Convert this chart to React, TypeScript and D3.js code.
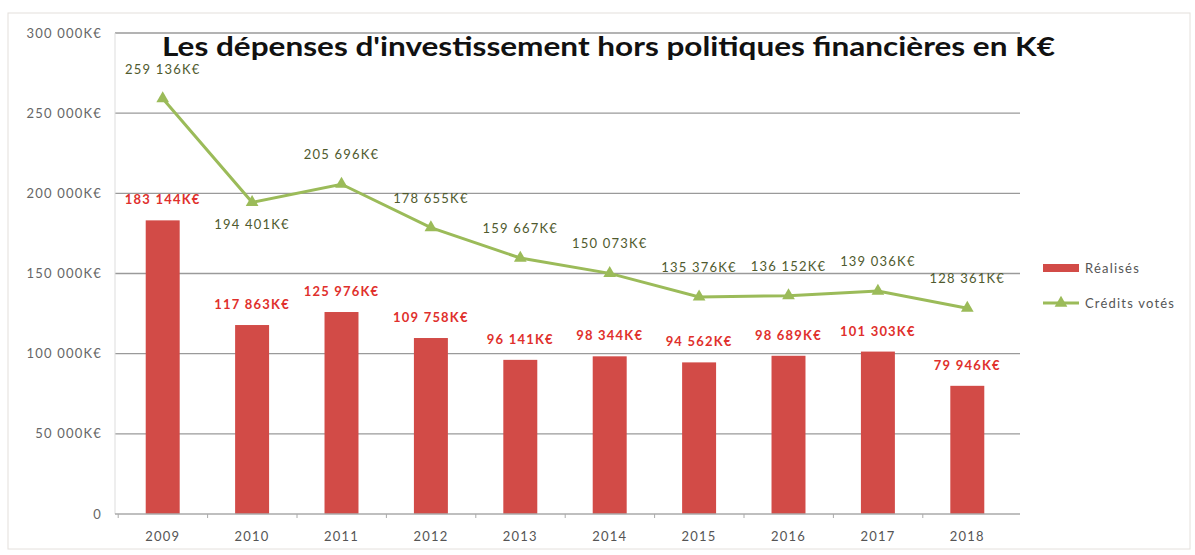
import React from "react";
import * as d3 from "d3";

const width = 1195;
const height = 555;
const margin = { top: 33, right: 183, bottom: 41, left: 118 };

const years = ["2009", "2010", "2011", "2012", "2013", "2014", "2015", "2016", "2017", "2018"];
const realises = [183144, 117863, 125976, 109758, 96141, 98344, 94562, 98689, 101303, 79946];
const credits = [259136, 194401, 205696, 178655, 159667, 150073, 135376, 136152, 139036, 128361];
// label above (-1) or below (+1) the point
const creditsLabelSide = [-1, 1, -1, -1, -1, -1, -1, -1, -1, -1];
const yTicks = [0, 50000, 100000, 150000, 200000, 250000, 300000];

const fmt = (v: number) => d3.format(",")(v).replace(/,/g, " ") + "K€";

const barColor = "#D24B47";
const lineColor = "#9BBB59";
const font = "Lato, 'Open Sans', sans-serif";
const small = { fontFamily: font, fontSize: 13, letterSpacing: 1.2 };

export default function App() {
  const x = d3
    .scaleBand()
    .domain(years)
    .range([margin.left, width - margin.right])
    .paddingInner(0.62)
    .paddingOuter(0.31);
  const y = d3
    .scaleLinear()
    .domain([0, 300000])
    .range([height - margin.bottom, margin.top]);
  const cx = (yr: string) => (x(yr) as number) + x.bandwidth() / 2;

  const line = d3
    .line<number>()
    .x((d, i) => cx(years[i]))
    .y((d) => y(d));

  const tri = d3.symbol().type(d3.symbolTriangle).size(70);
  const x0 = margin.left - 3;
  const x1 = width - margin.right + 8;

  return (
    <svg
      width={width}
      height={height}
      style={{ position: "fixed", left: 0, top: 0, background: "#fff" }}
    >
      <rect x={8} y={13} width={1182} height={536} fill="#fff" stroke="#e4e0dc" />
      {/* grid + y labels */}
      {yTicks.map((t) => (
        <g key={t}>
          {t > 0 && (
            <line x1={x0} x2={x1} y1={y(t)} y2={y(t)} stroke="#9a9a9a" strokeWidth={1.3} />
          )}
          <text
            x={margin.left - 16}
            y={y(t)}
            dy="0.35em"
            textAnchor="end"
            {...small}
            fill="#666"
          >
            {t === 0 ? "0" : fmt(t)}
          </text>
        </g>
      ))}
      <line x1={x0} x2={x0} y1={margin.top} y2={y(0)} stroke="#ddd" />
      {/* bars */}
      {realises.map((v, i) => (
        <rect
          key={years[i]}
          x={x(years[i])}
          y={y(v)}
          width={x.bandwidth()}
          height={y(0) - y(v)}
          fill={barColor}
        />
      ))}
      {/* x axis */}
      <line x1={x0} x2={x1} y1={y(0)} y2={y(0)} stroke="#aaa" strokeWidth={1.3} />
      {years.map((yr) => (
        <g key={yr}>
          <line
            x1={cx(yr) - 44.5}
            x2={cx(yr) - 44.5}
            y1={y(0)}
            y2={y(0) + 4}
            stroke="#aaa"
          />
          <text x={cx(yr)} y={y(0) + 27} textAnchor="middle" {...small} fill="#555">
            {yr}
          </text>
        </g>
      ))}
      {/* bar labels */}
      {realises.map((v, i) => (
        <text
          key={"rl" + i}
          x={cx(years[i])}
          y={y(v) - 16}
          textAnchor="middle"
          {...small}
          fontWeight="bold"
          fill="#E0302C"
        >
          {fmt(v)}
        </text>
      ))}
      {/* line */}
      <path d={line(credits) || ""} fill="none" stroke={lineColor} strokeWidth={3} />
      {credits.map((v, i) => (
        <path
          key={"m" + i}
          d={tri() || ""}
          transform={`translate(${cx(years[i])},${y(v)})`}
          fill={lineColor}
        />
      ))}
      {credits.map((v, i) => (
        <text
          key={"cl" + i}
          x={cx(years[i])}
          y={y(v) + (creditsLabelSide[i] < 0 ? -25 : 27)}
          textAnchor="middle"
          {...small}
          fill="#4f5a2e"
        >
          {fmt(v)}
        </text>
      ))}
      {/* title */}
      <text
        x={162}
        y={56}
        textLength={893}
        lengthAdjust="spacingAndGlyphs"
        fontFamily={font}
        fontSize={27}
        fontWeight="bold"
        fill="#111"
      >
        Les dépenses d'investissement hors politiques financières en K€
      </text>
      {/* legend */}
      <rect x={1043} y={264} width={36} height={8} fill={barColor} />
      <text x={1085} y={268} dy="0.35em" {...small} fill="#555">
        Réalisés
      </text>
      <line x1={1043} x2={1079} y1={303} y2={303} stroke={lineColor} strokeWidth={3} />
      <path d={tri() || ""} transform="translate(1061,303)" fill={lineColor} />
      <text x={1085} y={303} dy="0.35em" {...small} fill="#555">
        Crédits votés
      </text>
    </svg>
  );
}
